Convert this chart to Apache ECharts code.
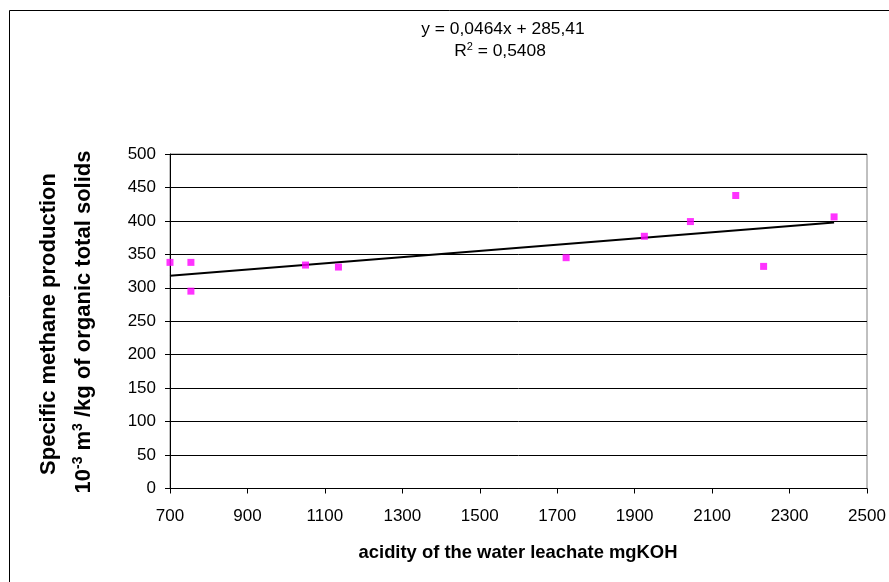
<!DOCTYPE html>
<html>
<head>
<meta charset="utf-8">
<script src="https://cdn.jsdelivr.net/npm/echarts@6/dist/echarts.min.js"></script>
<style>
  html, body { margin: 0; padding: 0; background: #fff; }
  #chart { width: 889px; height: 582px; }
</style>
</head>
<body>
<div id="chart"></div>
<script>
// acidity (mgKOH) and specific methane production
const acidity = [700, 754, 754, 1050, 1135, 1723, 1925, 2044, 2161, 2233, 2415];
const methane = [338, 338, 295, 334, 331, 345, 377, 399, 438, 332, 406];
// linear trendline end points as drawn
const trendX = [700, 2415];
const trendY = [318, 397.5];
const xTicks = [700, 900, 1100, 1300, 1500, 1700, 1900, 2100, 2300, 2500];
const yTicks = [0, 50, 100, 150, 200, 250, 300, 350, 400, 450, 500];

const font = '"Liberation Sans", Arial, sans-serif';

const chart = echarts.init(document.getElementById('chart'));
chart.setOption({
    animation: false,
    backgroundColor: '#fff',
    grid: { left: 170, right: 22, top: 154, bottom: 93.5, show: true, borderColor: '#808080', borderWidth: 1 },
    xAxis: {
        type: 'value',
        min: xTicks[0],
        max: xTicks[xTicks.length - 1],
        interval: 200,
        axisLine: { show: true, onZero: false, lineStyle: { color: '#000', width: 1 } },
        axisTick: { show: true, length: 5, lineStyle: { color: '#000' } },
        axisLabel: { color: '#000', fontFamily: font, fontSize: 17, margin: 19, formatter: v => String(v) },
        splitLine: { show: false }
    },
    yAxis: {
        type: 'value',
        min: yTicks[0],
        max: yTicks[yTicks.length - 1],
        interval: 50,
        axisLine: { show: true, lineStyle: { color: '#000', width: 1 } },
        axisTick: { show: true, length: 5, lineStyle: { color: '#000' } },
        axisLabel: { color: '#000', fontFamily: font, fontSize: 17, margin: 14, formatter: v => String(v) },
        splitLine: { show: true, lineStyle: { color: '#000', width: 1 } }
    },
    series: [
        {
            type: 'scatter',
            symbol: 'rect',
            symbolSize: 7,
            itemStyle: { color: '#FF00FF' },
            data: acidity.map((x, i) => [x, methane[i]]),
            z: 3
        },
        {
            type: 'line',
            showSymbol: false,
            lineStyle: { color: '#000', width: 2 },
            data: trendX.map((x, i) => [x, trendY[i]]),
            z: 2
        }
    ],
    graphic: [
        {
            type: 'rect',
            shape: { x: 9.5, y: 10.5, width: 1000, height: 1000 },
            style: { fill: 'none', stroke: '#000', lineWidth: 1 },
            silent: true
        },
        {
            type: 'text', x: 503, y: 29,
            style: { text: 'y = 0,0464x + 285,41', fontFamily: font, fontSize: 17.4, fill: '#000', align: 'center', verticalAlign: 'middle' }
        },
        {
            type: 'text', x: 500, y: 51,
            style: {
                text: '{a|R}{s|2}{a| = 0,5408}',
                align: 'center', verticalAlign: 'middle',
                rich: {
                    a: { fontFamily: font, fontSize: 17.4, fill: '#000' },
                    s: { fontFamily: font, fontSize: 11, fill: '#000', padding: [0, 0, 9, 0] }
                }
            }
        },
        {
            type: 'text', x: 49, y: 324, rotation: Math.PI / 2,
            style: { text: 'Specific methane production', fontFamily: font, fontSize: 22, fontWeight: 'bold', fill: '#000', align: 'center', verticalAlign: 'middle' }
        },
        {
            type: 'text', x: 84, y: 322, rotation: Math.PI / 2,
            style: {
                text: '{a|10}{s|-3}{a| m}{s|3}{a| /kg of organic total solids}',
                align: 'center', verticalAlign: 'middle',
                rich: {
                    a: { fontFamily: font, fontSize: 22, fontWeight: 'bold', fill: '#000' },
                    s: { fontFamily: font, fontSize: 14, fontWeight: 'bold', fill: '#000', padding: [0, 0, 12, 0] }
                }
            }
        },
        {
            type: 'text', x: 518, y: 553,
            style: { text: 'acidity of the water leachate mgKOH', fontFamily: font, fontSize: 18.4, fontWeight: 'bold', fill: '#000', align: 'center', verticalAlign: 'middle' }
        }
    ]
});
</script>
</body>
</html>
